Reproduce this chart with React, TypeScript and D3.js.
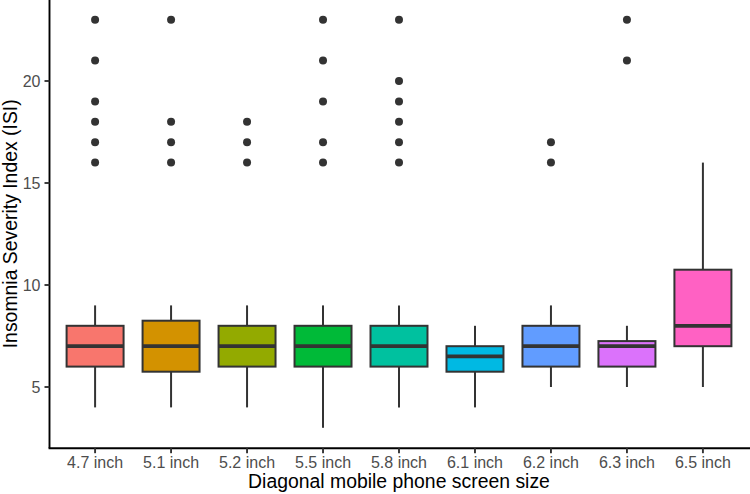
import React from "react";
import * as d3 from "d3";

const categories = ["4.7 inch", "5.1 inch", "5.2 inch", "5.5 inch", "5.8 inch", "6.1 inch", "6.2 inch", "6.3 inch", "6.5 inch"];
const lowerWhisker = [4, 4, 4, 3, 4, 4, 5, 5, 5];
const q1 = [6, 5.75, 6, 6, 6, 5.75, 6, 6, 7];
const medians = [7, 7, 7, 7, 7, 6.5, 7, 7, 8];
const q3 = [8, 8.25, 8, 8, 8, 7, 8, 7.25, 10.75];
const upperWhisker = [9, 9, 9, 9, 9, 8, 9, 8, 16];
const outliers: number[][] = [
  [16, 17, 18, 19, 21, 23],
  [16, 17, 18, 23],
  [16, 17, 18],
  [16, 17, 19, 21, 23],
  [16, 17, 18, 19, 20, 23],
  [],
  [16, 17],
  [21, 23],
  [],
];
const colors = ["#F8766D", "#D39200", "#93AA00", "#00BA38", "#00C19F", "#00B9E3", "#619CFF", "#DB72FB", "#FF61C3"];
const yTicks = [5, 10, 15, 20];

const W = 750;
const H = 494;
const left = 49.5;
const right = 748.5;
const top = -0.6;
const bottom = 448.2;
const font = "'Liberation Sans', Arial, Helvetica, sans-serif";

export default function App() {
  const x = d3.scaleBand<string>().domain(categories).range([left, right]).paddingOuter(0.1).paddingInner(0);
  const y = d3.scaleLinear().domain([2, 24]).range([bottom, top]);
  const bw = x.bandwidth();
  const boxW = bw * 0.75;
  const ink = "#333333";

  return (
    <svg width={W} height={H} style={{ position: "absolute", left: 0, top: 0, background: "#fff" }}>
      <rect x={0} y={0} width={W} height={H} fill="#fff" />
      {categories.map((c, i) => {
        const cx = (x(c) as number) + bw / 2;
        return (
          <g key={c}>
            <line x1={cx} x2={cx} y1={y(q3[i])} y2={y(upperWhisker[i])} stroke={ink} strokeWidth={2} />
            <line x1={cx} x2={cx} y1={y(q1[i])} y2={y(lowerWhisker[i])} stroke={ink} strokeWidth={2} />
            <rect
              x={cx - boxW / 2}
              y={y(q3[i])}
              width={boxW}
              height={y(q1[i]) - y(q3[i])}
              fill={colors[i]}
              stroke={ink}
              strokeWidth={2}
            />
            <line x1={cx - boxW / 2} x2={cx + boxW / 2} y1={y(medians[i])} y2={y(medians[i])} stroke={ink} strokeWidth={3.8} />
            {outliers[i].map((v, j) => (
              <circle key={j} cx={cx} cy={y(v)} r={4} fill={ink} />
            ))}
          </g>
        );
      })}
      {/* axes */}
      <line x1={left} x2={left} y1={0} y2={bottom} stroke="#000" strokeWidth={1.9} />
      <line x1={left - 0.9} x2={W} y1={bottom} y2={bottom} stroke="#000" strokeWidth={1.9} />
      {yTicks.map((t) => (
        <g key={t}>
          <line x1={left - 5} x2={left} y1={y(t)} y2={y(t)} stroke="#333" strokeWidth={1.9} />
          <text x={left - 9} y={y(t)} dy="0.36em" textAnchor="end" fontFamily={font} fontSize={16} fill="#4d4d4d">
            {t}
          </text>
        </g>
      ))}
      {categories.map((c) => {
        const cx = (x(c) as number) + bw / 2;
        return (
          <g key={c}>
            <line x1={cx} x2={cx} y1={bottom} y2={bottom + 5} stroke="#333" strokeWidth={1.9} />
            <text x={cx} y={467.5} textAnchor="middle" fontFamily={font} fontSize={16} fill="#4d4d4d">
              {c}
            </text>
          </g>
        );
      })}
      <text x={(left + right) / 2} y={488} textAnchor="middle" fontFamily={font} fontSize={19.4} fill="#000">
        Diagonal mobile phone screen size
      </text>
      <text
        transform={`translate(17, ${(top + bottom) / 2}) rotate(-90)`}
        textAnchor="middle"
        fontFamily={font}
        fontSize={19.4}
        fill="#000"
      >
        Insomnia Severity Index (ISI)
      </text>
    </svg>
  );
}
